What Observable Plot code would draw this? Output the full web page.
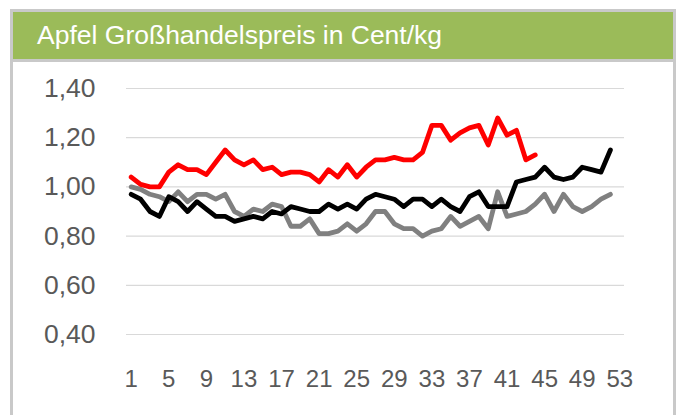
<!DOCTYPE html>
<html>
<head>
<meta charset="utf-8">
<script src="https://cdn.jsdelivr.net/npm/d3@7"></script>
<script src="https://cdn.jsdelivr.net/npm/@observablehq/plot@0.6"></script>
<style>
  html, body { margin: 0; padding: 0; background: #fff; width: 676px; height: 415px; overflow: hidden; }
  #frame { position: absolute; left: 10px; top: 9px; width: 666px; height: 420px; box-sizing: border-box;
           border: 3px solid #C9C9C9; border-bottom: none; }
  #title { height: 47px; background: #9BBB59; border-bottom: 3px solid #C9C9C9; color: #fff;
           font-family: "Liberation Sans", Arial, sans-serif; font-size: 26.5px; line-height: 47px; padding-left: 24px; }
  #chart { position: absolute; left: 0; top: 62px; }
</style>
</head>
<body>
<div id="frame"><div id="title">Apfel Großhandelspreis in Cent/kg</div></div>
<div id="chart"></div>
<script>
const weeks = d3.range(1, 54);
const xTicks = [1, 5, 9, 13, 17, 21, 25, 29, 33, 37, 41, 45, 49, 53];
const yTicks = [0.4, 0.6, 0.8, 1.0, 1.2, 1.4];

const redSeries = [
  1.04, 1.01, 1.00, 1.00, 1.06, 1.09, 1.07, 1.07, 1.05, 1.10,
  1.15, 1.11, 1.09, 1.11, 1.07, 1.08, 1.05, 1.06, 1.06, 1.05,
  1.02, 1.07, 1.04, 1.09, 1.04, 1.08, 1.11, 1.11, 1.12, 1.11,
  1.11, 1.14, 1.25, 1.25, 1.19, 1.22, 1.24, 1.25, 1.17, 1.28,
  1.21, 1.23, 1.11, 1.13
];
const blackSeries = [
  0.97, 0.95, 0.90, 0.88, 0.96, 0.94, 0.90, 0.94, 0.91, 0.88,
  0.88, 0.86, 0.87, 0.88, 0.87, 0.90, 0.89, 0.92, 0.91, 0.90,
  0.90, 0.93, 0.91, 0.93, 0.91, 0.95, 0.97, 0.96, 0.95, 0.92,
  0.95, 0.95, 0.92, 0.95, 0.92, 0.90, 0.96, 0.98, 0.92, 0.92,
  0.92, 1.02, 1.03, 1.04, 1.08, 1.04, 1.03, 1.04, 1.08, 1.07,
  1.06, 1.15
];
const graySeries = [
  1.00, 0.99, 0.97, 0.96, 0.94, 0.98, 0.94, 0.97, 0.97, 0.95,
  0.97, 0.90, 0.88, 0.91, 0.90, 0.93, 0.92, 0.84, 0.84, 0.87,
  0.81, 0.81, 0.82, 0.85, 0.82, 0.85, 0.90, 0.90, 0.85, 0.83,
  0.83, 0.80, 0.82, 0.83, 0.88, 0.84, 0.86, 0.88, 0.83, 0.98,
  0.88, 0.89, 0.90, 0.93, 0.97, 0.90, 0.97, 0.92, 0.90, 0.92,
  0.95, 0.97
];
const seriesList = [
  {name: "gray", values: graySeries, color: "#7F7F7F"},
  {name: "black", values: blackSeries, color: "#000000"},
  {name: "red", values: redSeries, color: "#FF0000"}
];
const rows = seriesList.flatMap(s => s.values.map((v, i) => ({series: s.name, week: weeks[i], value: v})));

const fmt = v => d3.format(".2f")(v).replace(".", ",");
const font = "'Liberation Sans', Arial, sans-serif";

const chart = Plot.plot({
  width: 676,
  height: 353,
  marginLeft: 126,
  marginRight: 52,
  marginTop: 26,
  marginBottom: 81,
  style: {fontFamily: font, background: "transparent", color: "#595959"},
  x: {domain: [0.5, 53.5]},
  y: {domain: [0.4, 1.4]},
  color: {domain: seriesList.map(s => s.name), range: seriesList.map(s => s.color)},
  marks: [
    Plot.ruleY(yTicks, {stroke: "#D9D9D9", strokeWidth: 1.2}),
    Plot.line(rows, {x: "week", y: "value", z: "series", stroke: "series", strokeWidth: 4.8,
      strokeLinejoin: "round", strokeLinecap: "round"}),
    Plot.axisX(xTicks, {tickSize: 0, tickPadding: 35, fontSize: 24, label: null, fill: "#595959",
      tickFormat: d => String(d)}),
    Plot.axisY(yTicks, {tickSize: 0, tickPadding: 31, fontSize: 26.5, label: null, fill: "#595959",
      tickFormat: fmt})
  ]
});
document.getElementById("chart").appendChild(chart);
</script>
</body>
</html>
